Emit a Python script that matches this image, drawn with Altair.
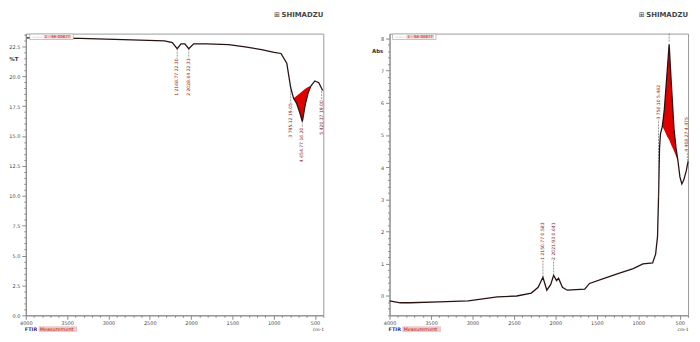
import altair as alt
import pandas as pd

# ---------------- data ----------------
# Left panel: transmittance spectrum (%T)
left_wn = [3988, 3342, 2720, 2321, 2227, 2168, 2122, 2075, 2028, 1969, 1816, 1546, 1347,
           1147, 995, 912, 842, 795, 760, 725, 687, 654, 619, 584, 549, 502, 455, 408]
left_T = [23.2, 23.16, 23.04, 22.95, 22.8, 22.3, 22.71, 22.71, 22.3, 22.71, 22.71, 22.63, 22.45,
          22.22, 22.0, 21.9, 21.08, 19.05, 18.15, 17.75, 17.0, 16.2, 17.6, 18.6, 19.2, 19.6, 19.45, 18.8]

# red peak area, left panel (spectrum vs. baseline)
left_fill_wn = [760, 725, 687, 654, 619, 584, 549]
left_fill_curve = [18.15, 17.75, 17.0, 16.2, 17.6, 18.6, 19.2]
left_fill_base = [18.15, 18.35, 18.55, 18.75, 18.95, 19.1, 19.2]

# peak labels, left panel
left_pk_wn = [2168, 2028, 795, 654, 420]
left_pk_val = [22.3, 22.3, 19.05, 16.2, 19.0]
left_pk_lab = [21.49, 21.49, 17.75, 15.7, 18.0]
left_pk_text = ["1 2168.77 22.30", "2 2028.64 22.31", "3 795.12 19.05", "4 654.77 16.20", "5 420.37 19.00"]

# Right panel: absorbance spectrum (Abs)
right_wn = [4000, 3871, 3754, 3403, 3051, 2700, 2466, 2290, 2208, 2150, 2103, 2056, 2021, 1986,
            1962, 1915, 1857, 1646, 1588, 1412, 1236, 1061, 944, 827, 791, 768, 756, 744, 733,
            710, 686, 651, 628, 604, 569, 545, 522, 498, 475, 452, 420, 400]
right_A = [-0.15, -0.21, -0.21, -0.18, -0.15, -0.03, 0.0, 0.09, 0.27, 0.58, 0.18, 0.36, 0.64, 0.48,
           0.55, 0.27, 0.18, 0.21, 0.39, 0.55, 0.7, 0.85, 1.0, 1.03, 1.3, 1.85, 3.06, 4.58, 5.03,
           5.27, 5.79, 7.0, 7.82, 6.7, 5.18, 4.6, 4.2, 3.7, 3.48, 3.6, 3.9, 4.18]

right_fill_wn = [710, 686, 651, 628, 604, 569, 545, 522]
right_fill_curve = [5.27, 5.79, 7.0, 7.82, 6.7, 5.18, 4.6, 4.2]
right_fill_base = [5.27, 5.15, 4.95, 4.85, 4.7, 4.5, 4.35, 4.2]

right_pk_wn = [2150, 2021, 756, 408, 628]
right_pk_val = [0.58, 0.64, 3.06, 4.1, 8.15]
right_pk_lab = [1.12, 1.12, 5.48, 4.48, 7.9]
right_pk_text = ["1 2150.77 0.583", "2 2021.93 0.641", "3 756.10 5.482", "4 408.27 4.475", ""]

x_major = [4000, 3500, 3000, 2500, 2000, 1500, 1000, 500]
x_ticks = list(range(400, 4001, 100))
left_y_ticks = [round(i * 0.5, 1) for i in range(0, 48)]
right_y_ticks = [round(i * 0.2, 1) for i in range(-3, 41)]

W_L, W_R, H = 301, 302, 285
LINE = "#2a1212"
RED = "#e00000"
LABEL_RED = "#8b2323"
GRAY = "#8a8a8a"
FONT = "DejaVu Sans"


def panel(wn, vals, fwn, fcurve, fbase, pwn, pval, plab, ptext, ydom, yticks, ytest, ylab_expr,
          width, ytitle, ytitle_xy, legend_x, up_labels):
    xs = alt.Scale(domain=[400, 4000], reverse=True, nice=False, zero=False)
    ys = alt.Scale(domain=ydom, nice=False, zero=False)
    x_axis = alt.Axis(values=x_ticks, title=None, labelOverlap=False, labelFlush=False,
                      labelExpr="datum.value % 500 === 0 ? datum.value : ''",
                      tickSize={"condition": {"test": "datum.value % 500 === 0", "value": 4}, "value": 2},
                      labelPadding=1, grid=False)
    y_axis = alt.Axis(values=yticks, title=None, labelOverlap=False, labelFlush=False,
                      labelExpr=ylab_expr,
                      tickSize={"condition": {"test": ytest, "value": 4}, "value": 2},
                      labelPadding=2, grid=False)

    spec = pd.DataFrame({"wn": wn, "v": vals})
    fill = pd.DataFrame({"wn": fwn, "c": fcurve, "b": fbase})
    pk = pd.DataFrame({"wn": pwn, "v": pval, "lab": plab, "t": ptext})

    X = lambda f: alt.X(f, scale=xs, axis=x_axis)
    Y = lambda f: alt.Y(f, scale=ys, axis=y_axis)

    area = alt.Chart(fill).mark_area(color=RED, opacity=1, interpolate="linear").encode(
        x=X("wn:Q"), y=Y("c:Q"), y2="b:Q")
    line = alt.Chart(spec).mark_line(color=LINE, strokeWidth=1.3).encode(
        x=X("wn:Q"), y=Y("v:Q"), order="wn:Q")
    conn = alt.Chart(pk).mark_rule(color="#555555", strokeWidth=0.6, strokeDash=[2, 1]).encode(
        x=X("wn:Q"), y=Y("v:Q"), y2="lab:Q")
    labels = alt.Chart(pk).mark_text(angle=270, align="left" if up_labels else "right",
                                     baseline="middle", fontSize=4.6, font=FONT,
                                     color=LABEL_RED).encode(
        x=X("wn:Q"), y=Y("lab:Q"), text="t:N")

    one = pd.DataFrame({"a": [0]})
    def txt(s, x, y, **kw):
        props = dict(font=FONT, fontSize=5, color="#333333", align="center", baseline="middle")
        props.update(kw)
        return alt.Chart(one).mark_text(text=s, **props).encode(x=alt.value(x), y=alt.value(y))

    def box(x1, x2, y1, y2, **kw):
        return alt.Chart(one).mark_rect(**kw).encode(
            x=alt.value(x1), x2=alt.value(x2), y=alt.value(y1), y2=alt.value(y2))

    deco = [
        txt(ytitle, ytitle_xy[0], ytitle_xy[1], fontSize=5.5, fontWeight="bold"),
        txt("⊞", width - 47, -19, fontSize=7, color="#444444"),
        txt("SHIMADZU", width, -19, align="right", fontSize=7, fontWeight="bold", color="#444444"),
        box(legend_x, legend_x + 44, 0.5, 6, fill="white", stroke="#999999", strokeWidth=0.6),
        box(legend_x + 14, legend_x + 42, 1.5, 5, fill="#f0c8c8"),
        txt("———", legend_x + 8, 3.2, fontSize=3.5, color="#555555"),
        txt("1 - SE-0067T", legend_x + 28, 3.4, fontSize=4, color="#b01818"),
        txt("FTIR", -1, H + 14, align="left", fontSize=5, fontWeight="bold", color="#3a2a6a"),
        box(13, 52, H + 11, H + 17, fill="#f0c8c8"),
        txt("Measurement", 14, H + 14, align="left", fontSize=5, color="#b01818"),
        txt("cm-1", width - 5, H + 14.5, fontSize=4.5, color="#333333"),
    ]
    return alt.layer(area, line, conn, labels, *deco).properties(width=width, height=H)


left = panel(left_wn, left_T, left_fill_wn, left_fill_curve, left_fill_base,
             left_pk_wn, left_pk_val, left_pk_lab, left_pk_text,
             [0, 23.56], left_y_ticks,
             "abs(datum.value/2.5 - round(datum.value/2.5)) < 0.001",
             "abs(datum.value/2.5 - round(datum.value/2.5)) < 0.001 ? format(datum.value, '.1f') : ''",
             W_L, "%T", (-12, 26), 4, False)

right = panel(right_wn, right_A, right_fill_wn, right_fill_curve, right_fill_base,
              right_pk_wn, right_pk_val, right_pk_lab, right_pk_text,
              [-0.6, 8.15], right_y_ticks,
              "abs(datum.value - round(datum.value)) < 0.001",
              "abs(datum.value - round(datum.value)) < 0.001 ? format(datum.value, 'd') : ''",
              W_R, "Abs", (-12, 18), 3, True)

chart = alt.hconcat(left, right, spacing=45).properties(
    padding={"left": 0, "top": 0, "right": 0, "bottom": 0}
).configure_view(stroke="#9a9a9a", strokeWidth=1).configure_axis(
    domainColor=GRAY, tickColor=GRAY, labelColor="#444444", labelFont=FONT, labelFontSize=5
)

chart.save("out.html", embed_options={"renderer": "svg", "actions": False})
